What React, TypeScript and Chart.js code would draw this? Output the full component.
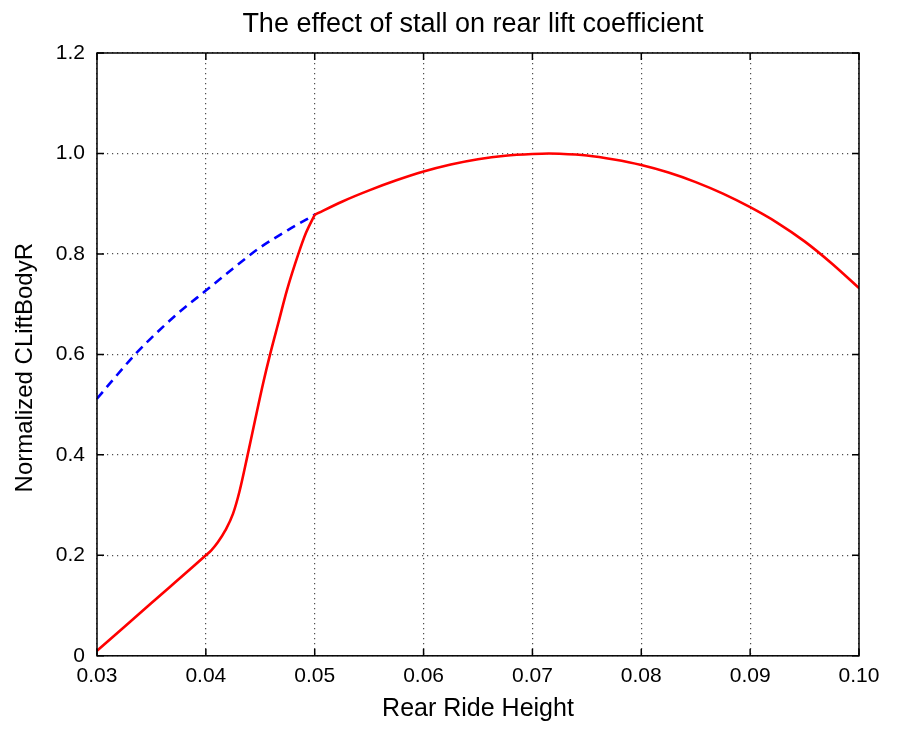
import { useEffect, useRef } from 'react';
import { Chart, registerables } from 'chart.js';

Chart.register(...registerables);

// red, stalled part up to the break at 0.05
const stallX = [
  0.03, 0.035, 0.04, 0.0405, 0.0411, 0.0418, 0.0425, 0.0431, 0.0438, 0.0445,
  0.0453, 0.0459, 0.0467, 0.04744, 0.0485, 0.0492, 0.05,
];
const stallY = [
  0.01, 0.105, 0.2, 0.21, 0.226, 0.25, 0.283, 0.328, 0.396, 0.467,
  0.546, 0.6, 0.666, 0.727, 0.8, 0.842, 0.878,
];
// red, attached flow from 0.05 on
const flowX = [
  0.05, 0.0525, 0.055, 0.0575, 0.06, 0.0625, 0.065, 0.0675, 0.07, 0.0715, 0.0725,
  0.075, 0.0775, 0.08, 0.0825, 0.085, 0.0875, 0.09, 0.0925, 0.095, 0.0975, 0.1,
];
const flowY = [
  0.878, 0.904, 0.9265, 0.9465, 0.964, 0.978, 0.9885, 0.9955, 0.999, 1.0, 0.9995,
  0.996, 0.988, 0.977, 0.962, 0.943, 0.92, 0.893, 0.862, 0.825, 0.781, 0.732,
];
// blue dashed, unstalled continuation
const blueX = [0.03, 0.0335, 0.035, 0.0375, 0.04, 0.0425, 0.044, 0.045, 0.0475, 0.05];
const blueY = [0.512, 0.6, 0.633, 0.683, 0.727, 0.771, 0.797, 0.813, 0.847, 0.878];

const TITLE = 'The effect of stall on rear lift coefficient';
const FONT = "'Liberation Sans', Arial, Helvetica, sans-serif";

const framePlugin = {
  id: 'frame',
  afterDatasetsDraw(chart: any) {
    const { ctx, chartArea } = chart;
    const { left, right, top, bottom } = chartArea;
    const xs = chart.scales.x;
    const ys = chart.scales.y;
    const len = 7;
    ctx.save();
    ctx.strokeStyle = '#000';
    ctx.lineWidth = 1.5;
    ctx.setLineDash([]);
    ctx.strokeRect(left, top, right - left, bottom - top);
    ctx.beginPath();
    xs.ticks.forEach((t: any) => {
      const px = xs.getPixelForValue(t.value);
      ctx.moveTo(px, bottom);
      ctx.lineTo(px, bottom - len);
      ctx.moveTo(px, top);
      ctx.lineTo(px, top + len);
    });
    ys.ticks.forEach((t: any) => {
      const py = ys.getPixelForValue(t.value);
      ctx.moveTo(left, py);
      ctx.lineTo(left + len, py);
      ctx.moveTo(right, py);
      ctx.lineTo(right - len, py);
    });
    ctx.stroke();

    // title centred over the plot box rather than the whole canvas
    ctx.fillStyle = '#000';
    ctx.font = `27px ${FONT}`;
    ctx.textAlign = 'center';
    ctx.textBaseline = 'middle';
    ctx.fillText(TITLE, (left + right) / 2 - 5, 25);
    ctx.restore();
  },
};

const toPoints = (xs: number[], ys: number[]) => xs.map((x, i) => ({ x, y: ys[i] }));

export default function App() {
  const chartRef = useRef<HTMLCanvasElement>(null);

  useEffect(() => {
    document.body.style.margin = '0';
    if (!chartRef.current) return;
    const ctx = chartRef.current.getContext('2d');
    if (!ctx) return;

    const grid = {
      color: 'rgba(60,60,60,0.9)',
      lineWidth: 1.2,
      drawTicks: false,
    };
    const border = { display: false, dash: [1.2, 3.8] };
    const red = {
      borderColor: '#ff0000',
      borderWidth: 2.6,
      pointRadius: 0,
      cubicInterpolationMode: 'monotone' as const,
    };

    const chart = new Chart(ctx, {
      type: 'line',
      data: {
        datasets: [
          { label: 'stalled', data: toPoints(stallX, stallY), ...red },
          { label: 'attached', data: toPoints(flowX, flowY), ...red },
          {
            label: 'unstalled',
            data: toPoints(blueX, blueY),
            borderColor: '#0000ff',
            borderWidth: 2.6,
            borderDash: [9, 6],
            pointRadius: 0,
            cubicInterpolationMode: 'monotone',
          },
        ],
      },
      options: {
        animation: false,
        responsive: true,
        maintainAspectRatio: false,
        layout: { padding: { top: 53, right: 39, bottom: 9, left: 0 } },
        plugins: {
          legend: { display: false },
          tooltip: { enabled: false },
          title: { display: false },
        },
        scales: {
          x: {
            type: 'linear',
            min: 0.03,
            max: 0.1,
            grid,
            border,
            ticks: {
              stepSize: 0.01,
              padding: 8,
              color: '#000',
              font: { family: FONT, size: 21 },
              callback: (v: any) => Number(v).toFixed(2),
            },
            title: {
              display: true,
              text: 'Rear Ride Height',
              color: '#000',
              font: { family: FONT, size: 25 },
              padding: { top: -3, bottom: 0 },
            },
          },
          y: {
            type: 'linear',
            min: 0,
            max: 1.2,
            grid,
            border,
            ticks: {
              stepSize: 0.2,
              padding: 12,
              color: '#000',
              font: { family: FONT, size: 21 },
              callback: (v: any) => (Number(v) === 0 ? '0' : Number(v).toFixed(1)),
            },
            title: {
              display: true,
              // trailing spaces nudge the label a little below the box centre, as in the source
              text: 'Normalized CLiftBodyR    ',
              color: '#000',
              font: { family: FONT, size: 24 },
              padding: { top: 10.6, bottom: 4.4 },
            },
          },
        },
      },
      plugins: [framePlugin],
    });

    return () => chart.destroy();
  }, []);

  return (
    <div style={{ width: 898, height: 733, position: 'relative', background: '#fff' }}>
      <canvas ref={chartRef} />
    </div>
  );
}
